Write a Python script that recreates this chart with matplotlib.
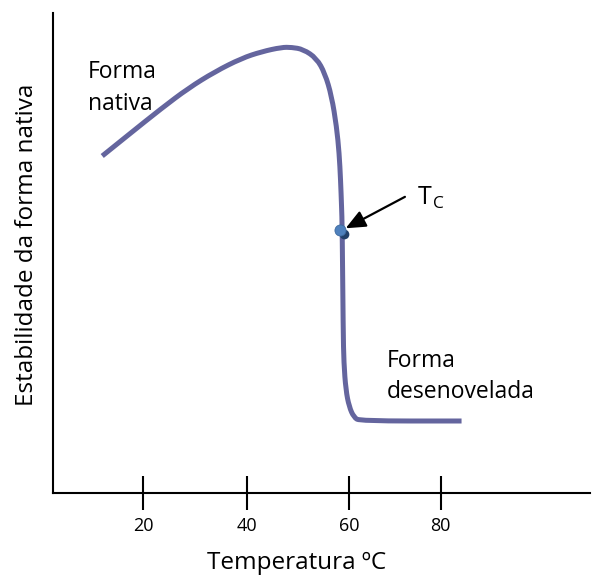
import matplotlib
matplotlib.use("Agg")
import matplotlib.pyplot as plt
import matplotlib.transforms as mtransforms
from matplotlib.path import Path
from matplotlib.patches import PathPatch

# ---- data ----
temperature = [12.17, 17.17, 23.60, 28.71, 33.85, 38.98, 42.83, 46.67, 48.60, 50.83,
               53.40, 55.0, 56.29, 57.25, 57.75, 58.02, 58.21, 58.33, 58.52, 58.65,
               59.04, 59.67, 60.58, 61.73, 81.29]
stability = [70.21, 74.58, 80.15, 84.31, 87.77, 90.56, 91.94, 92.85, 92.85, 92.44,
             90.56, 87.44, 82.71, 76.31, 70.77, 65.21, 59.65, 55.48, 33.96, 27.08,
             21.46, 17.98, 15.77, 15.0, 15.0]
tc_temp = [57.9]
tc_stab = [54.8]
tick_labels = ["20", "40", "60", "80"]
tick_positions = [20, 40, 59.6, 77.3]

plt.rcParams['font.family'] = ['Open Sans', 'DejaVu Sans']

W, H = 595, 576
fig = plt.figure(figsize=(W / 100, H / 100), dpi=100)
ax = fig.add_axes([53 / W, (H - 493) / H, (590 - 53) / W, (493 - 13) / H])

line_color = '#64659e'
# smooth curve through the read points (quadratic segments between midpoints)
pts = list(zip(temperature, stability))
verts = [pts[0]]
codes = [Path.MOVETO]
for i in range(1, len(pts) - 1):
    mid = ((pts[i][0] + pts[i + 1][0]) / 2, (pts[i][1] + pts[i + 1][1]) / 2)
    verts += [pts[i], mid]
    codes += [Path.CURVE3, Path.CURVE3]
verts.append(pts[-1])
codes.append(Path.LINETO)
ax.add_patch(PathPatch(Path(verts, codes), facecolor='none', edgecolor=line_color,
                       lw=3.6, joinstyle='round', capstyle='butt', zorder=2))

# Tc marker with shadow
shadow = mtransforms.offset_copy(ax.transData, fig=fig, x=3, y=-3, units='points')
ax.plot(tc_temp, tc_stab, 'o', ms=7, color='#22406a', mec='none', transform=shadow, zorder=3)
ax.plot(tc_temp, tc_stab, 'o', ms=8, color='#4f81bd', mec='#3e6a9e', mew=0.6, zorder=4)

ax.annotate('', xy=(59.0, 55.15), xytext=(70.4, 61.7),
            arrowprops=dict(arrowstyle='-|>,head_length=0.8,head_width=0.35',
                            color='black', lw=1.6, shrinkA=0, shrinkB=0,
                            mutation_scale=15), zorder=5)

ax.set_xlim(2.7, 106.0)
ax.set_ylim(0, 100)
for s in ['top', 'right']:
    ax.spines[s].set_visible(False)
for s in ['left', 'bottom']:
    ax.spines[s].set_linewidth(1.5)
    ax.spines[s].set_color('black')
ax.set_yticks([])
ax.set_xticks(tick_positions)
ax.set_xticklabels(tick_labels, fontsize=13)
ax.tick_params(axis='x', direction='inout', length=24, width=1.5, pad=5)

def ftext(px, py, s, **kw):
    fig.text(px / W, 1 - py / H, s, **kw)

ftext(88, 78, "Forma", fontsize=16.5, va='baseline', ha='left')
ftext(88, 110, "nativa", fontsize=16.5, va='baseline', ha='left')
ftext(387, 367, "Forma", fontsize=16.5, va='baseline', ha='left')
ftext(387, 398, "desenovelada", fontsize=16.5, va='baseline', ha='left')
ftext(418, 204, "T", fontsize=18, va='baseline', ha='left')
ftext(433, 208, "C", fontsize=12.5, va='baseline', ha='left')
ftext(297, 569, "Temperatura ºC", fontsize=17.5, va='baseline', ha='center')
ftext(27, 245, "Estabilidade da forma nativa", fontsize=17.5, va='center', ha='center',
      rotation=90)

fig.savefig('out.png', dpi=100)
